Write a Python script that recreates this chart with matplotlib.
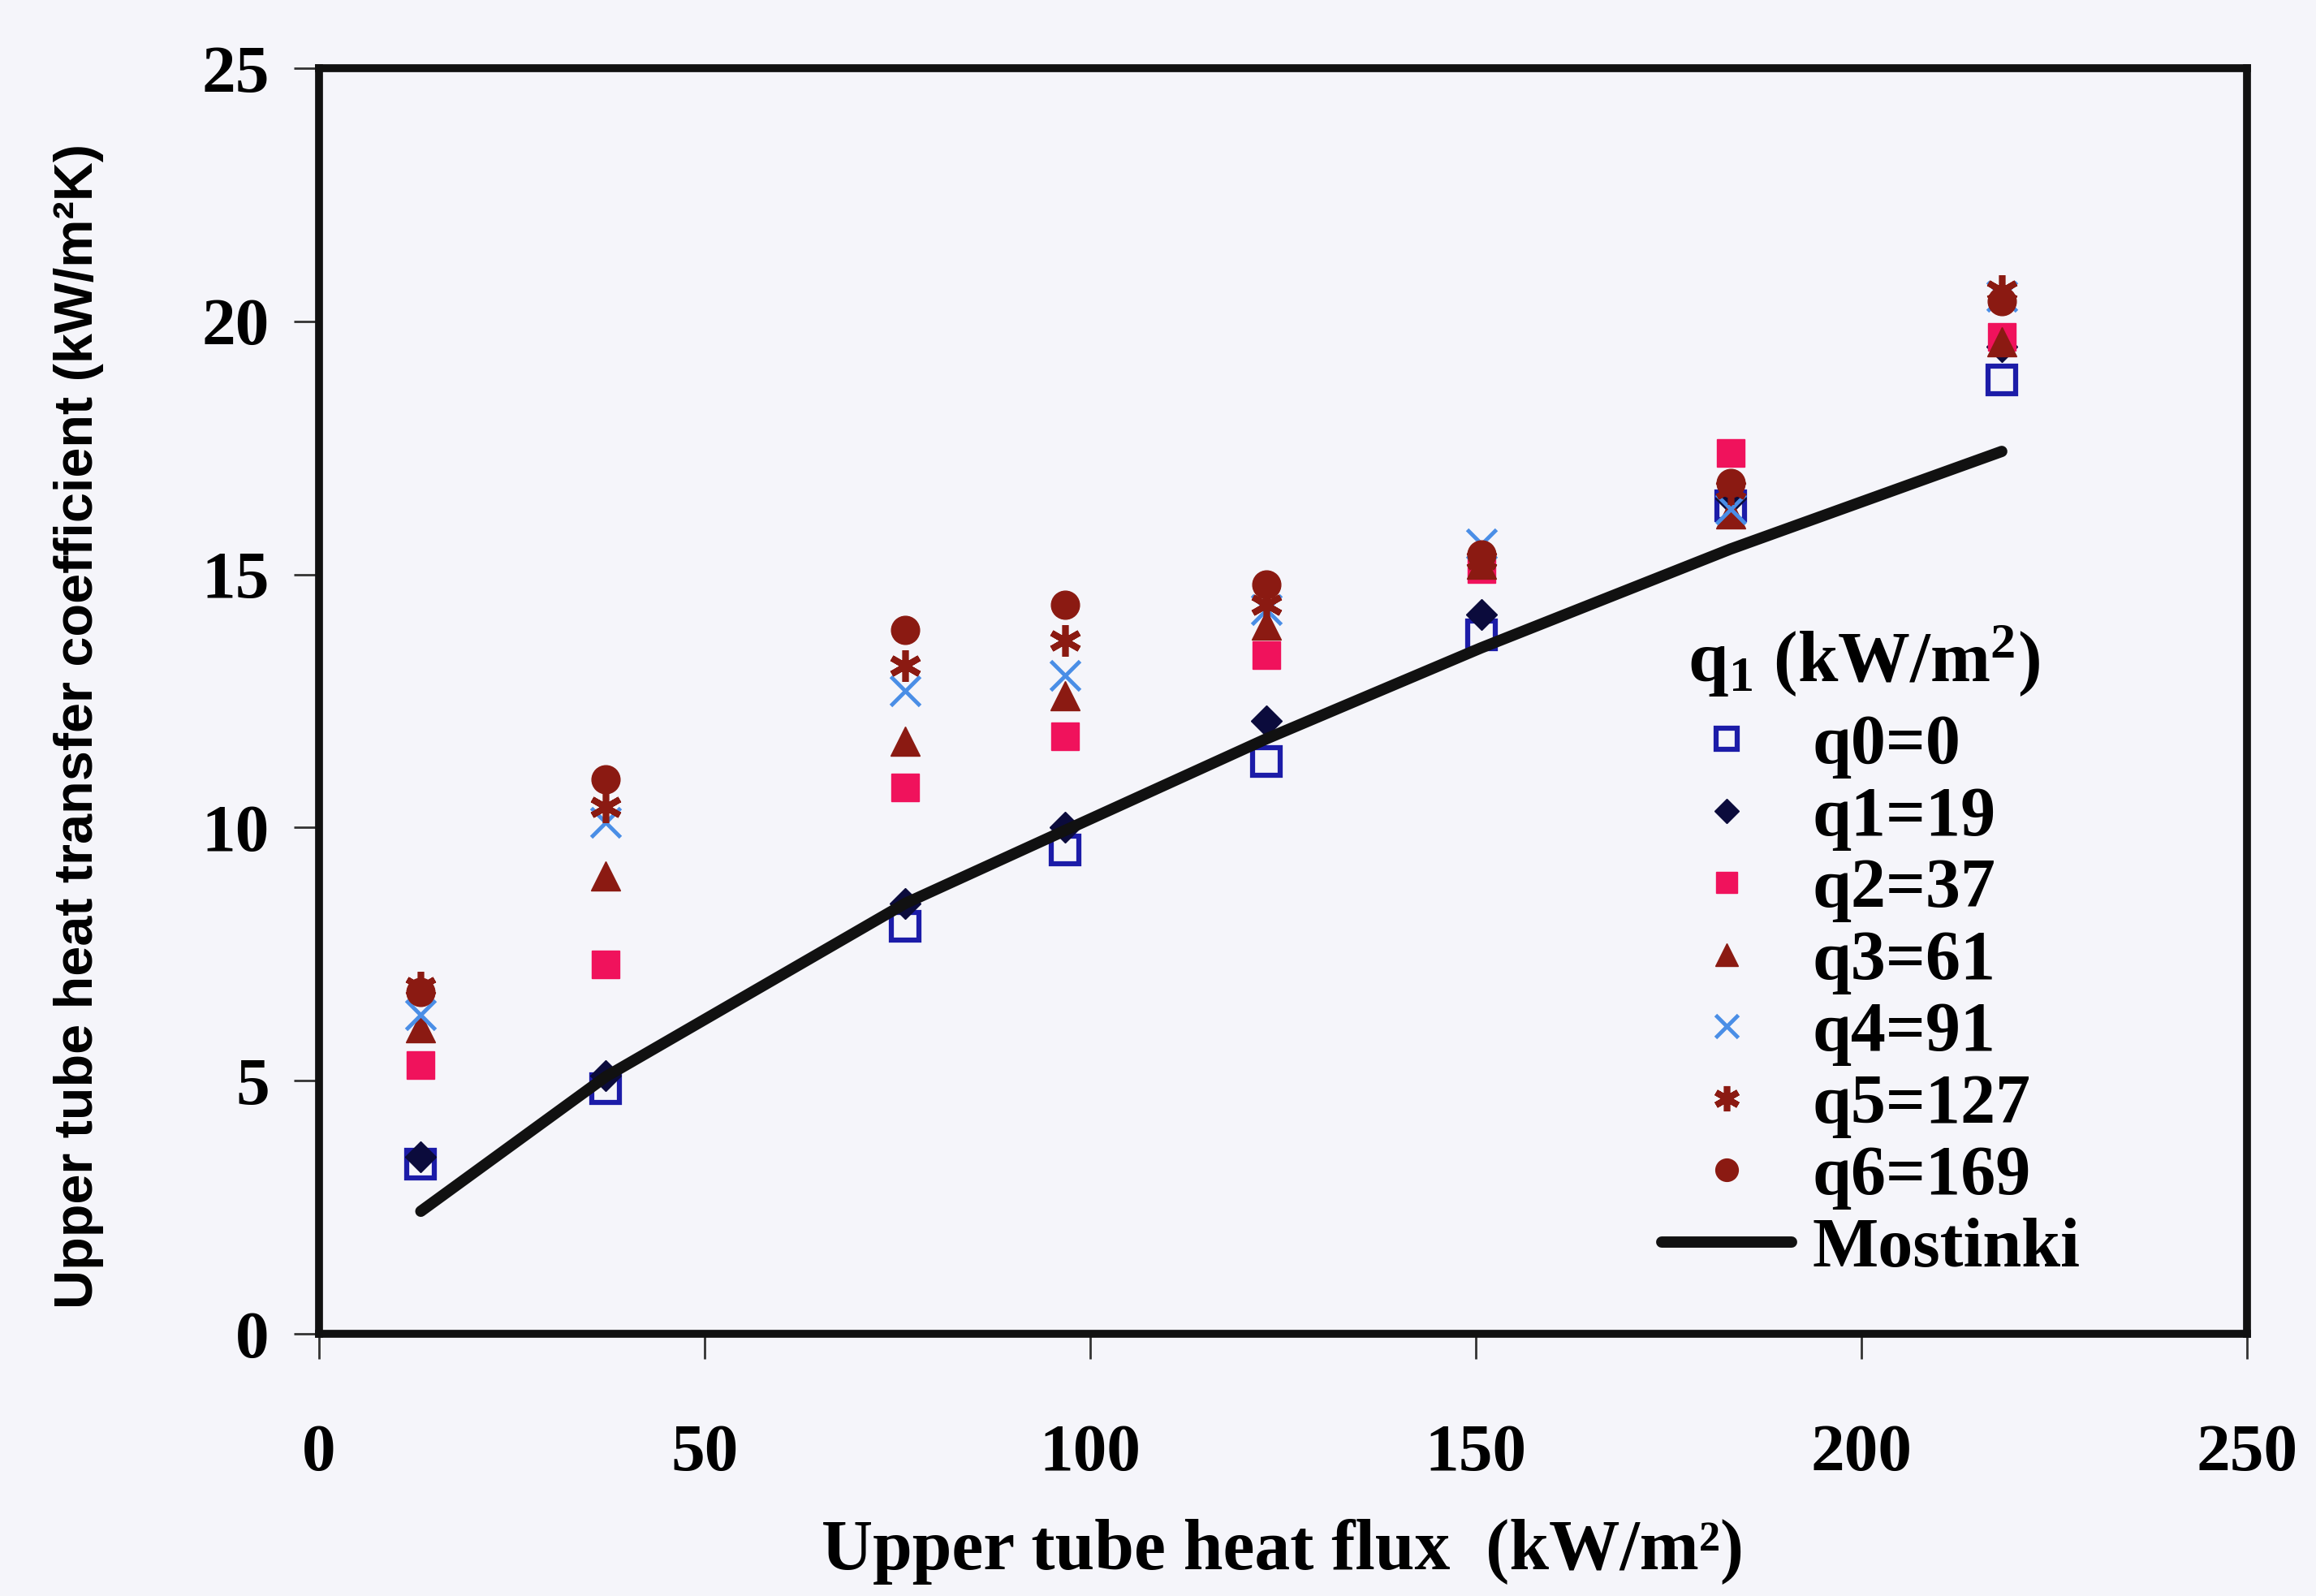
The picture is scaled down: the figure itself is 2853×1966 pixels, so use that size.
import matplotlib
matplotlib.use("Agg")
import matplotlib.pyplot as plt

# Upper tube heat flux (kW/m2) at each test point
heat_flux = [13.2, 37.2, 76.0, 96.7, 122.8, 150.7, 183.0, 218.2]

# Upper tube heat transfer coefficient (kW/m2K) for each lower tube heat flux q1
h_q0 = [3.35, 4.85, 8.05, 9.55, 11.3, 13.8, 16.35, 18.85]
h_q1 = [3.5, 5.1, 8.5, 10.0, 12.1, 14.2, 16.5, 19.5]
h_q2 = [5.3, 7.3, 10.8, 11.8, 13.4, 15.1, 17.4, 19.7]
h_q3 = [6.05, 9.05, 11.7, 12.6, 14.0, 15.2, 16.2, 19.6]
h_q4 = [6.3, 10.1, 12.7, 13.0, 14.3, 15.6, 16.3, 20.5]
h_q5 = [6.85, 10.4, 13.2, 13.7, 14.4, 15.3, 16.7, 20.6]
h_q6 = [6.75, 10.95, 13.9, 14.4, 14.8, 15.4, 16.8, 20.4]

# Mostinski correlation
h_mostinski = [2.42, 5.08, 8.5, 9.94, 11.75, 13.55, 15.5, 17.43]

series_labels = ["q0=0", "q1=19", "q2=37", "q3=61", "q4=91", "q5=127", "q6=169"]
x_ticks = [0, 50, 100, 150, 200, 250]
y_ticks = [0, 5, 10, 15, 20, 25]

plt.rcParams["mathtext.fontset"] = "custom"
plt.rcParams["mathtext.rm"] = "Liberation Serif:bold"
plt.rcParams["mathtext.it"] = "Liberation Serif:bold"
plt.rcParams["mathtext.bf"] = "Liberation Serif:bold"

BG = "#f5f5fa"
W, H = 2853, 1966
fig = plt.figure(figsize=(W / 100, H / 100), dpi=100, facecolor=BG)
ax = fig.add_axes([393 / W, 1 - 1643 / H, (2768 - 393) / W, (1643 - 84) / H])
ax.set_facecolor(BG)

dark_red = "#8b1a12"
styles = [
    dict(marker="s", ms=24, mfc="none", mec="#1c1ca8", mew=4.5),
    dict(marker="D", ms=19, mfc="#0b0b3c", mec="#0b0b3c", mew=1),
    dict(marker="s", ms=24, mfc="#f0125c", mec="#f0125c", mew=1),
    dict(marker="^", ms=26, mfc=dark_red, mec=dark_red, mew=1),
    dict(marker="x", ms=26, mfc="none", mec="#4a8ee6", mew=3.5),
    dict(marker=(6, 2, 0), ms=28, mfc="none", mec=dark_red, mew=5.5),
    dict(marker="o", ms=25, mfc=dark_red, mec=dark_red, mew=1),
]
all_series = [h_q0, h_q1, h_q2, h_q3, h_q4, h_q5, h_q6]

handles = []
for vals, lab, st in zip(all_series, series_labels, styles):
    (hnd,) = ax.plot(heat_flux, vals, ls="none", label=lab, **st)
    handles.append(hnd)

(line,) = ax.plot(heat_flux, h_mostinski, color="#111111", lw=10,
                  solid_capstyle="round", solid_joinstyle="round", label="Mostinki")
handles.append(line)

ax.set_xlim(0, 250)
ax.set_ylim(0, 25)
ax.set_xticks(x_ticks)
ax.set_yticks(y_ticks)

for s in ax.spines.values():
    s.set_linewidth(7)
    s.set_color("#111111")

ax.tick_params(axis="both", direction="out", length=22, width=2, color="#333333")
ax.tick_params(axis="x", pad=58)
ax.tick_params(axis="y", pad=22)
for lbl in ax.get_xticklabels() + ax.get_yticklabels():
    lbl.set_fontfamily("Liberation Serif")
    lbl.set_fontweight("bold")
    lbl.set_fontsize(60)

ax.set_xlabel("Upper tube heat flux  (kW/m\u00b2)", fontfamily="Liberation Serif",
              fontweight="bold", fontsize=63)
ax.xaxis.set_label_coords(0.5, -0.172)
ax.xaxis.label.set_verticalalignment("center")

ax.set_ylabel("Upper tube heat transfer coefficient (kW/m\u00b2K)",
              fontfamily="Liberation Sans", fontweight="bold", fontsize=48)
ax.yaxis.set_label_coords(-0.1246, 0.48)
ax.yaxis.label.set_verticalalignment("center")

# Legend heading
fig.text(2296 / W, 1 - 813 / H, "q$_1$ (kW/m$^2$)", ha="center", va="center",
         fontfamily="Liberation Serif", fontweight="bold", fontsize=64)

leg = ax.legend(handles=handles, loc="upper left",
                bbox_to_anchor=(2047 / W, 1 - 880 / H), bbox_transform=fig.transFigure,
                borderaxespad=0, borderpad=0, frameon=False, labelspacing=0.107,
                handlelength=1.86, handletextpad=0.3, markerscale=0.8,
                prop=dict(family="Liberation Serif", weight="bold", size=62))

fig.savefig("out.png", dpi=100, facecolor=BG)
